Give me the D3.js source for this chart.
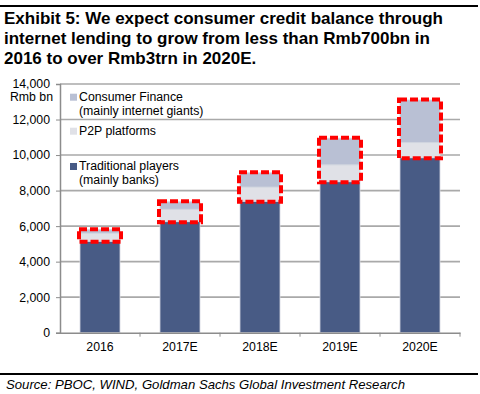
<!DOCTYPE html>
<html>
<head>
<meta charset="utf-8">
<script src="https://cdn.jsdelivr.net/npm/d3@7"></script>
<style>
  body { margin: 0; background: #fff; }
  text { font-family: "Liberation Sans", Arial, sans-serif; }
</style>
</head>
<body>
<div id="chart"></div>
<script>
// values (Rmb bn)
var years = ["2016", "2017E", "2018E", "2019E", "2020E"];
var traditional = [5150, 6250, 7400, 8500, 9850];
var p2p = [450, 700, 800, 950, 850];
var consumerFinance = [200, 420, 800, 1500, 2400];
var yTicks = [0, 2000, 4000, 6000, 8000, 10000, 12000, 14000];

var titleLines = [
  "Exhibit 5: We expect consumer credit balance through",
  "internet lending to grow from less than Rmb700bn in",
  "2016 to over Rmb3trn in 2020E."
];

var colors = { trad: "#485b85", p2p: "#e0e1e7", cf: "#b9c0d4" };

var svg = d3.select("#chart").append("svg")
    .attr("width", 480)
    .attr("height", 394);

// header rule and title
svg.append("rect").attr("x", 0).attr("y", 5).attr("width", 478).attr("height", 2).attr("fill", "#000");

svg.selectAll("text.title")
  .data(titleLines)
  .enter().append("text")
    .attr("class", "title")
    .attr("x", 4)
    .attr("y", function(d, i) { return 24 + i * 20; })
    .attr("font-size", "17px")
    .attr("font-weight", "bold")
    .attr("fill", "#000")
    .text(function(d) { return d; });

var plotLeft = 60, plotRight = 460, plotTop = 84, plotBottom = 332.7;

var x = d3.scaleBand()
    .domain(years)
    .range([plotLeft, plotRight])
    .paddingInner(0.5)
    .paddingOuter(0.25);

var y = d3.scaleLinear()
    .domain([0, 14000])
    .range([plotBottom, plotTop]);

// gridlines
svg.append("g")
  .selectAll("line")
  .data(yTicks.filter(function(d) { return d > 0; }))
  .enter().append("line")
    .attr("x1", plotLeft)
    .attr("x2", plotRight)
    .attr("y1", function(d) { return y(d); })
    .attr("y2", function(d) { return y(d); })
    .attr("stroke", "#a9a9a9")
    .attr("stroke-width", 1.6);

// y axis
var yAxis = svg.append("g")
    .attr("transform", "translate(" + plotLeft + ",0)")
    .call(d3.axisLeft(y).tickValues(yTicks).tickSize(4).tickPadding(6)
      .tickFormat(d3.format(",")));
yAxis.select(".domain").attr("stroke", "#8c8c8c").attr("stroke-width", 1.5);
yAxis.selectAll(".tick line").attr("stroke", "#8c8c8c");
yAxis.selectAll(".tick text")
    .attr("font-family", "Liberation Sans, Arial, sans-serif")
    .attr("font-size", "12.3px")
    .attr("fill", "#000");

svg.append("text")
    .attr("x", 53)
    .attr("y", 101)
    .attr("text-anchor", "end")
    .attr("font-size", "12.3px")
    .text("Rmb bn");

// stacked bars
var rows = years.map(function(yr, i) {
  return { year: yr, trad: traditional[i], p2p: p2p[i], cf: consumerFinance[i] };
});
var stack = d3.stack().keys(["trad", "p2p", "cf"]);
var series = stack(rows);

svg.append("g")
  .selectAll("g")
  .data(series)
  .enter().append("g")
    .attr("fill", function(d) { return colors[d.key]; })
  .selectAll("rect")
  .data(function(d) { return d; })
  .enter().append("rect")
    .attr("x", function(d) { return x(d.data.year); })
    .attr("width", x.bandwidth())
    .attr("y", function(d) { return y(d[1]); })
    .attr("height", function(d) { return y(d[0]) - y(d[1]); })
    .attr("stroke", "#d4d7e0")
    .attr("stroke-width", 0.8);

// x axis
var xAxis = svg.append("g")
    .attr("transform", "translate(0," + plotBottom + ")")
    .call(d3.axisBottom(x).tickSize(0).tickPadding(10));
xAxis.select(".domain").attr("stroke", "#8c8c8c").attr("stroke-width", 1.5);
xAxis.selectAll(".tick text")
    .attr("font-family", "Liberation Sans, Arial, sans-serif")
    .attr("font-size", "12.3px")
    .attr("fill", "#000");

// tick marks between categories
var step = x.step();
xAxis.selectAll("line.sep")
  .data(years)
  .enter().append("line")
    .attr("class", "sep")
    .attr("x1", function(d) { return x(d) - x.paddingOuter() * step + step; })
    .attr("x2", function(d) { return x(d) - x.paddingOuter() * step + step; })
    .attr("y1", 0)
    .attr("y2", 4)
    .attr("stroke", "#8c8c8c");

// red dashed highlight boxes around internet lending
svg.append("g")
  .selectAll("rect")
  .data(rows)
  .enter().append("rect")
    .attr("x", function(d) { return x(d.year) - 1; })
    .attr("width", x.bandwidth() + 2)
    .attr("y", function(d) { return y(d.trad + d.p2p + d.cf) - 0.5; })
    .attr("height", function(d) { return y(d.trad) - y(d.trad + d.p2p + d.cf) + 1; })
    .attr("fill", "none")
    .attr("stroke", "#ff0000")
    .attr("stroke-width", 4)
    .attr("stroke-dasharray", "8,3");

// legend
var legend = [
  { key: "cf", lines: ["Consumer Finance", "(mainly internet giants)"], y: 100.7 },
  { key: "p2p", lines: ["P2P platforms"], y: 134.7 },
  { key: "trad", lines: ["Traditional players", "(mainly banks)"], y: 170 }
];
var lg = svg.append("g").selectAll("g")
  .data(legend)
  .enter().append("g");
lg.append("rect")
    .attr("x", 70)
    .attr("y", function(d) { return d.y - 7; })
    .attr("width", 7)
    .attr("height", 7)
    .attr("fill", function(d) { return colors[d.key]; });
lg.selectAll("text")
  .data(function(d) { return d.lines.map(function(t, i) { return { t: t, y: d.y + i * 13.8 }; }); })
  .enter().append("text")
    .attr("x", 79)
    .attr("y", function(d) { return d.y; })
    .attr("font-size", "12.3px")
    .attr("fill", "#000")
    .text(function(d) { return d.t; });

// footer
svg.append("rect").attr("x", 0).attr("y", 373).attr("width", 478).attr("height", 2).attr("fill", "#000");
svg.append("text")
    .attr("x", 6)
    .attr("y", 389)
    .attr("font-size", "13px")
    .attr("font-style", "italic")
    .attr("textLength", 399)
    .attr("lengthAdjust", "spacingAndGlyphs")
    .text("Source: PBOC, WIND, Goldman Sachs Global Investment Research");
</script>
</body>
</html>
